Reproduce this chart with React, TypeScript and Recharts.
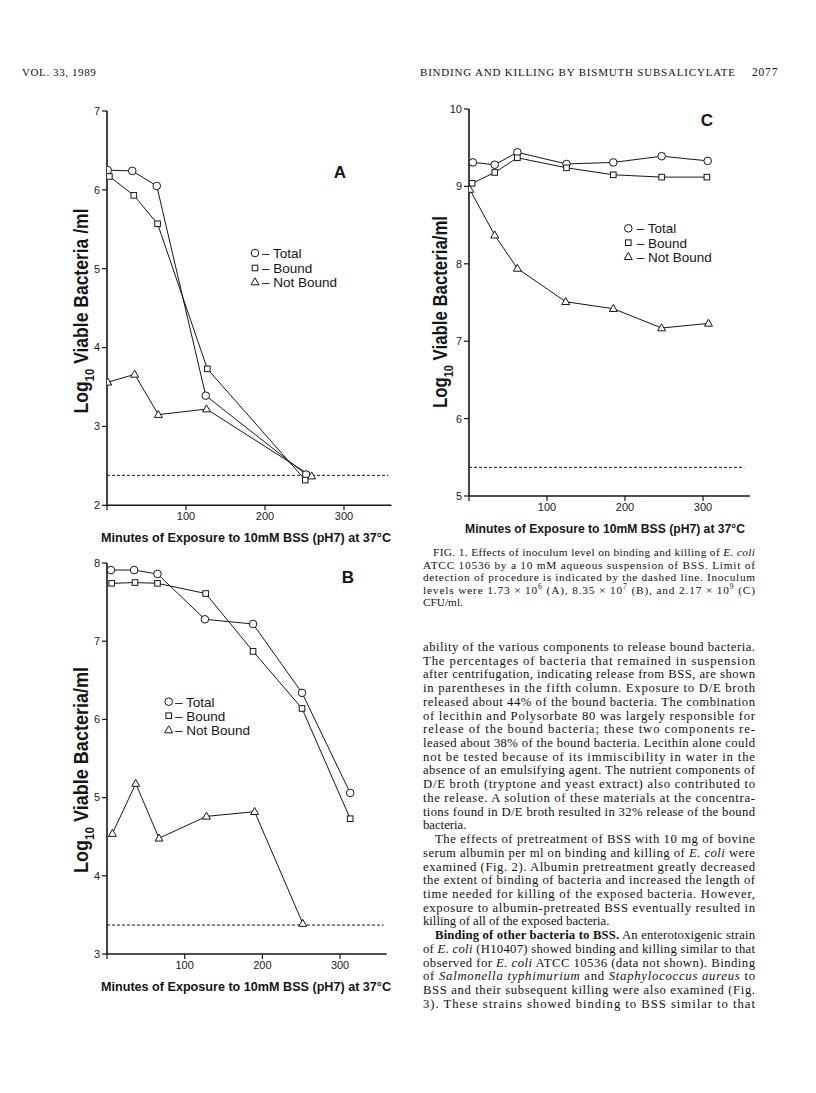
import React from 'react';
import { LineChart, Line, XAxis, YAxis, ReferenceLine } from 'recharts';

// ---------- Panel A ----------
const aTotalX = [1, 32, 63, 125, 252];
const aTotalY = [6.25, 6.24, 6.05, 3.39, 2.39];
const aBoundX = [3, 34, 64, 127, 251];
const aBoundY = [6.17, 5.93, 5.57, 3.73, 2.32];
const aNotBoundX = [1, 35, 65, 126, 259];
const aNotBoundY = [3.56, 3.66, 3.15, 3.22, 2.37];
const aLimit = 2.38;
const aYTicks = [2, 3, 4, 5, 6, 7];

// ---------- Panel B ----------
const bTotalX = [5, 35, 65, 126, 188, 251, 313];
const bTotalY = [7.91, 7.91, 7.86, 7.28, 7.22, 6.34, 5.06];
const bBoundX = [6, 36, 65, 127, 188, 251, 313];
const bBoundY = [7.74, 7.75, 7.74, 7.61, 6.87, 6.14, 4.73];
const bNotBoundX = [7, 37, 67, 128, 190, 252];
const bNotBoundY = [4.54, 5.18, 4.48, 4.76, 4.82, 3.39];
const bLimit = 3.37;
const bYTicks = [3, 4, 5, 6, 7, 8];

// ---------- Panel C ----------
const cTotalX = [5, 33, 62, 125, 185, 247, 306];
const cTotalY = [9.31, 9.28, 9.44, 9.29, 9.31, 9.39, 9.33];
const cBoundX = [4, 33, 62, 125, 185, 247, 305];
const cBoundY = [9.04, 9.18, 9.37, 9.24, 9.15, 9.12, 9.12];
const cNotBoundX = [1, 33, 62, 124, 185, 247, 307];
const cNotBoundY = [8.96, 8.37, 7.94, 7.51, 7.42, 7.17, 7.23];
const cLimit = 5.37;
const cYTicks = [5, 6, 7, 8, 9, 10];

const xTicks = [0, 100, 200, 300];
const seriesNames = ['Total', 'Bound', 'Not Bound'];
const xTitle = 'Minutes of Exposure to 10mM BSS (pH7) at 37°C';

const zip = (xs: number[], ys: number[]) => xs.map((x, i) => ({ x, y: ys[i] }));

const INK = '#151515';
const SANS = '"Liberation Sans", Arial, sans-serif';
const SERIF = '"Liberation Serif", "Times New Roman", serif';

function Marker({ kind, cx, cy }: { kind: number; cx: number; cy: number }) {
  if (cx == null || cy == null) return null;
  if (kind === 0) return <circle cx={cx} cy={cy} r={3.8} fill="#fff" stroke={INK} strokeWidth={1} />;
  if (kind === 1) return <rect x={cx - 2.8} y={cy - 2.8} width={5.6} height={5.6} fill="#fff" stroke={INK} strokeWidth={1} />;
  return (
    <polygon
      points={`${cx},${cy - 4.2} ${cx - 4},${cy + 2.8} ${cx + 4},${cy + 2.8}`}
      fill="#fff"
      stroke={INK}
      strokeWidth={1}
    />
  );
}

type PanelProps = {
  left: number;
  top: number;
  width: number;
  height: number;
  xMax: number;
  yDomain: [number, number];
  yTicks: number[];
  series: { x: number; y: number }[][];
  limit: number;
  limitEnd: number;
};

function Panel({ left, top, width, height, xMax, yDomain, yTicks, series, limit, limitEnd }: PanelProps) {
  const ML = 50, MT = 10, MR = 10, XH = 40;
  return (
    <div style={{ position: 'absolute', left: left - ML, top: top - MT }}>
      <LineChart
        width={width + ML + MR}
        height={height + MT + XH}
        margin={{ top: MT, right: MR, bottom: 0, left: 0 }}
      >
        <XAxis
          type="number"
          dataKey="x"
          domain={[0, xMax]}
          ticks={xTicks}
          interval={0}
          allowDataOverflow
          height={XH}
          tickSize={5}
          tickMargin={2}
          tickFormatter={(v: number) => (v === 0 ? '' : String(v))}
          axisLine={{ stroke: INK, strokeWidth: 1.6 }}
          tickLine={{ stroke: INK, strokeWidth: 1.2 }}
          tick={{ fontSize: 11, fill: '#222', fontFamily: SANS }}
        />
        <YAxis
          type="number"
          domain={yDomain}
          ticks={yTicks}
          interval={0}
          allowDataOverflow
          width={ML}
          tickSize={5}
          tickMargin={2}
          axisLine={{ stroke: INK, strokeWidth: 1.6 }}
          tickLine={{ stroke: INK, strokeWidth: 1.2 }}
          tick={{ fontSize: 11, fill: '#222', fontFamily: SANS }}
        />
        <ReferenceLine
          segment={[{ x: 0, y: limit }, { x: limitEnd, y: limit }]}
          stroke={INK}
          strokeDasharray="3 2"
          strokeWidth={1}
        />
        {series.map((data, k) => (
          <Line
            key={seriesNames[k]}
            name={seriesNames[k]}
            data={data}
            dataKey="y"
            type="linear"
            stroke={INK}
            strokeWidth={1}
            isAnimationActive={false}
            dot={(p: any) => <Marker key={`${k}-${p.index}`} kind={k} cx={p.cx} cy={p.cy} />}
            activeDot={false}
          />
        ))}
      </LineChart>
    </div>
  );
}

function LegendSvg({ mx, tx, ys }: { mx: number; tx: number; ys: number[] }) {
  return (
    <g>
      {seriesNames.map((n, k) => (
        <g key={n}>
          <Marker kind={k} cx={mx} cy={ys[k]} />
          <text x={tx} y={ys[k] + 4.8} fontSize={13.5} fontFamily={SANS} fill={INK}>
            {'– ' + n}
          </text>
        </g>
      ))}
    </g>
  );
}

function YTitle({ x, y, slash, len }: { x: number; y: number; slash: string; len: number }) {
  return (
    <text
      transform={`translate(${x},${y}) rotate(-90)`}
      textAnchor="middle"
      fontSize={20}
      fontWeight="bold"
      fontFamily={SANS}
      fill={INK}
      textLength={len}
      lengthAdjust="spacingAndGlyphs"
    >
      Log<tspan dy={6} fontSize={13}>10</tspan>
      <tspan dy={-6}>{'  Viable Bacteria' + slash}</tspan>
    </text>
  );
}

type Seg = { t: string; i?: boolean; b?: boolean; sup?: string };
type TLine = { segs: Seg[]; j: boolean; ind?: boolean };

const headerLeft = 'VOL. 33, 1989';
const headerRight = 'BINDING AND KILLING BY BISMUTH SUBSALICYLATE';
const pageNo = '2077';

const captionLines: TLine[] = [
  { segs: [{ t: 'FIG. 1.  Effects of inoculum level on binding and killing of ' }, { t: 'E. coli', i: true }], j: true, ind: true },
  { segs: [{ t: 'ATCC 10536 by a 10 mM aqueous suspension of BSS. Limit of' }], j: true },
  { segs: [{ t: 'detection of procedure is indicated by the dashed line. Inoculum' }], j: true },
  {
    segs: [
      { t: 'levels were 1.73 × 10', sup: '6' },
      { t: ' (A), 8.35 × 10', sup: '7' },
      { t: ' (B), and 2.17 × 10', sup: '9' },
      { t: ' (C)' },
    ],
    j: true,
  },
  { segs: [{ t: 'CFU/ml.' }], j: false },
];

const bodyLines: TLine[] = [
  { segs: [{ t: 'ability of the various components to release bound bacteria.' }], j: true },
  { segs: [{ t: 'The percentages of bacteria that remained in suspension' }], j: true },
  { segs: [{ t: 'after centrifugation, indicating release from BSS, are shown' }], j: true },
  { segs: [{ t: 'in parentheses in the fifth column. Exposure to D/E broth' }], j: true },
  { segs: [{ t: 'released about 44% of the bound bacteria. The combination' }], j: true },
  { segs: [{ t: 'of lecithin and Polysorbate 80 was largely responsible for' }], j: true },
  { segs: [{ t: 'release of the bound bacteria; these two components re-' }], j: true },
  { segs: [{ t: 'leased about 38% of the bound bacteria. Lecithin alone could' }], j: true },
  { segs: [{ t: 'not be tested because of its immiscibility in water in the' }], j: true },
  { segs: [{ t: 'absence of an emulsifying agent. The nutrient components of' }], j: true },
  { segs: [{ t: 'D/E broth (tryptone and yeast extract) also contributed to' }], j: true },
  { segs: [{ t: 'the release. A solution of these materials at the concentra-' }], j: true },
  { segs: [{ t: 'tions found in D/E broth resulted in 32% release of the bound' }], j: true },
  { segs: [{ t: 'bacteria.' }], j: false },
  { segs: [{ t: 'The effects of pretreatment of BSS with 10 mg of bovine' }], j: true, ind: true },
  { segs: [{ t: 'serum albumin per ml on binding and killing of ' }, { t: 'E. coli', i: true }, { t: ' were' }], j: true },
  { segs: [{ t: 'examined (Fig. 2). Albumin pretreatment greatly decreased' }], j: true },
  { segs: [{ t: 'the extent of binding of bacteria and increased the length of' }], j: true },
  { segs: [{ t: 'time needed for killing of the exposed bacteria. However,' }], j: true },
  { segs: [{ t: 'exposure to albumin-pretreated BSS eventually resulted in' }], j: true },
  { segs: [{ t: 'killing of all of the exposed bacteria.' }], j: false },
  { segs: [{ t: 'Binding of other bacteria to BSS.', b: true }, { t: ' An enterotoxigenic strain' }], j: true, ind: true },
  { segs: [{ t: 'of ' }, { t: 'E. coli', i: true }, { t: ' (H10407) showed binding and killing similar to that' }], j: true },
  { segs: [{ t: 'observed for ' }, { t: 'E. coli', i: true }, { t: ' ATCC 10536 (data not shown). Binding' }], j: true },
  {
    segs: [
      { t: 'of ' },
      { t: 'Salmonella typhimurium', i: true },
      { t: ' and ' },
      { t: 'Staphylococcus aureus', i: true },
      { t: ' to' },
    ],
    j: true,
  },
  { segs: [{ t: 'BSS and their subsequent killing were also examined (Fig.' }], j: true },
  { segs: [{ t: '3). These strains showed binding to BSS similar to that' }], j: true },
];

function TextLines({ lines, x0, y0, dy, width, size, indent }: { lines: TLine[]; x0: number; y0: number; dy: number; width: number; size: number; indent: number }) {
  const SH = size * 0.38;
  return (
    <g>
      {lines.map((ln, li) => {
        const x = x0 + (ln.ind ? indent : 0);
        const w = width - (ln.ind ? indent : 0);
        const props: any = {};
        if (ln.j) {
          props.textLength = w;
          props.lengthAdjust = 'spacing';
        }
        const parts: React.ReactNode[] = [];
        let raised = false;
        ln.segs.forEach((s, si) => {
          parts.push(
            <tspan
              key={`s${si}`}
              dy={raised ? SH : undefined}
              fontStyle={s.i ? 'italic' : undefined}
              fontWeight={s.b ? 'bold' : undefined}
            >
              {s.t}
            </tspan>
          );
          raised = false;
          if (s.sup) {
            parts.push(
              <tspan key={`p${si}`} dy={-SH} fontSize={size * 0.68}>
                {s.sup}
              </tspan>
            );
            raised = true;
          }
        });
        return (
          <text key={li} x={x} y={y0 + li * dy} fontSize={size} fontFamily={SERIF} fill="#111" {...props}>
            {parts}
          </text>
        );
      })}
    </g>
  );
}

function XTitle({ x, y, len }: { x: number; y: number; len: number }) {
  return (
    <text
      x={x}
      y={y}
      textAnchor="middle"
      fontSize={13.5}
      fontWeight="bold"
      fontFamily={SANS}
      fill={INK}
      textLength={len}
      lengthAdjust="spacingAndGlyphs"
    >
      {xTitle}
    </text>
  );
}

export default function App() {
  const aSeries = [zip(aTotalX, aTotalY), zip(aBoundX, aBoundY), zip(aNotBoundX, aNotBoundY)];
  const bSeries = [zip(bTotalX, bTotalY), zip(bBoundX, bBoundY), zip(bNotBoundX, bNotBoundY)];
  const cSeries = [zip(cTotalX, cTotalY), zip(cBoundX, cBoundY), zip(cNotBoundX, cNotBoundY)];

  return (
    <div style={{ position: 'absolute', left: 0, top: 0, width: 816, height: 1093, background: '#fff', overflow: 'hidden' }}>
      <Panel left={107} top={110.7} width={284.4} height={394.3} xMax={360} yDomain={[2, 7]} yTicks={aYTicks} series={aSeries} limit={aLimit} limitEnd={356} />
      <Panel left={107} top={563.3} width={279.7} height={391} xMax={360} yDomain={[3, 8]} yTicks={bYTicks} series={bSeries} limit={bLimit} limitEnd={356} />
      <Panel left={469.3} top={108.7} width={280.8} height={387} xMax={360} yDomain={[5, 10]} yTicks={cYTicks} series={cSeries} limit={cLimit} limitEnd={353} />

      <svg width={816} height={1093} style={{ position: 'absolute', left: 0, top: 0, pointerEvents: 'none' }}>
        {/* running header */}
        <text x={22} y={76} fontSize={11} fontFamily={SERIF} fill="#111" letterSpacing={0.6}>{headerLeft}</text>
        <text x={420} y={76} fontSize={11} fontFamily={SERIF} fill="#111" textLength={315} lengthAdjust="spacing">{headerRight}</text>
        <text x={752} y={76} fontSize={11.5} fontFamily={SERIF} fill="#111" letterSpacing={0.8}>{pageNo}</text>

        {/* panel letters */}
        <text x={340} y={178} textAnchor="middle" fontSize={17} fontWeight="bold" fontFamily={SANS} fill={INK}>A</text>
        <text x={348} y={583} textAnchor="middle" fontSize={17} fontWeight="bold" fontFamily={SANS} fill={INK}>B</text>
        <text x={707} y={126} textAnchor="middle" fontSize={17} fontWeight="bold" fontFamily={SANS} fill={INK}>C</text>

        {/* legends */}
        <LegendSvg mx={255} tx={262} ys={[253, 268, 282]} />
        <LegendSvg mx={168.7} tx={175} ys={[701.7, 715.7, 730]} />
        <LegendSvg mx={628.3} tx={636.7} ys={[228.3, 242.7, 256.7]} />

        {/* y titles */}
        <YTitle x={88} y={311} slash=" /ml" len={205} />
        <YTitle x={88} y={770} slash="/ml" len={206} />
        <YTitle x={447} y={312} slash="/ml" len={192} />

        {/* x titles */}
        <XTitle x={246} y={542} len={290} />
        <XTitle x={246} y={991} len={290} />
        <XTitle x={605} y={533} len={280} />

        {/* caption */}
        <TextLines lines={captionLines} x0={423} y0={556} dy={12.5} width={332} size={11.3} indent={10} />

        {/* body text */}
        <TextLines lines={bodyLines} x0={423} y0={651} dy={13.72} width={332} size={12.7} indent={12} />
      </svg>
    </div>
  );
}
